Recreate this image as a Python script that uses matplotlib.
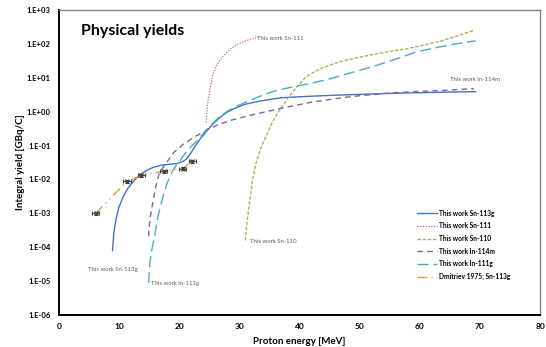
import numpy as np
import matplotlib
matplotlib.use("Agg")
import matplotlib.pyplot as plt

plt.rcParams['font.family'] = ['Lato', 'DejaVu Sans']

# ---- data (y as log10 of yield) ----
sn113g_E = [8.9, 9.1, 9.5, 10.0, 10.7, 11.5, 12.5, 13.4, 14.5, 15.7, 17.0, 18.5, 19.6, 20.5, 21.2, 22.0,
            22.6, 23.5, 24.5, 25.5, 26.7, 28.0, 29.5, 31.0, 32.8, 35.0, 37.0, 40.0, 45.0, 50.0, 55.0,
            60.0, 65.0, 69.3]
sn113g_L = [-4.1, -3.6, -3.15, -2.8, -2.5, -2.25, -2.03, -1.87, -1.74, -1.64, -1.58, -1.55, -1.53, -1.48,
            -1.40, -1.20, -1.03, -0.80, -0.59, -0.38, -0.18, -0.01, 0.12, 0.22, 0.29, 0.36, 0.41, 0.44,
            0.48, 0.51, 0.54, 0.56, 0.58, 0.59]

sn111_E = [24.5, 24.6, 24.8, 25.2, 25.6, 26.3, 27.2, 28.3, 29.5, 31.2, 33.0]
sn111_L = [-0.32, 0.0, 0.35, 0.75, 1.1, 1.4, 1.62, 1.82, 1.97, 2.1, 2.2]

sn110_E = [31.0, 31.3, 31.7, 32.2, 32.8, 33.5, 34.5, 35.5, 36.7, 38.3, 39.5, 41.1, 42.5, 43.8, 46.6,
           49.0, 52.0, 55.0, 57.7, 60.0, 63.2, 66.0, 69.0]
sn110_L = [-3.8, -3.2, -2.68, -2.0, -1.5, -1.1, -0.7, -0.3, 0.05, 0.45, 0.72, 1.03, 1.18, 1.29, 1.47,
           1.57, 1.68, 1.78, 1.85, 1.94, 2.07, 2.22, 2.4]

in114m_E = [14.9, 15.1, 15.6, 16.1, 16.7, 17.9, 19.0, 20.6, 22.5, 24.5, 26.5, 28.9, 31.5, 34.5, 38.3,
            42.0, 46.6, 50.0, 54.9, 60.0, 63.2, 69.0]
in114m_L = [-3.68, -3.2, -2.68, -2.2, -1.8, -1.5, -1.22, -0.97, -0.75, -0.55, -0.38, -0.24, -0.12, 0.0,
            0.15, 0.28, 0.40, 0.47, 0.55, 0.60, 0.62, 0.68]

in111g_E = [14.9, 15.1, 15.4, 15.9, 16.5, 17.3, 18.0, 18.9, 19.6, 20.1, 20.6, 21.5, 23.0, 25.0, 26.5,
            27.9, 29.5, 31.2, 33.5, 35.5, 38.3, 40.0, 42.5, 44.9, 48.0, 52.0, 56.0, 59.4, 63.0, 66.0, 69.3]
in111g_L = [-5.06, -4.5, -4.1, -3.68, -3.05, -2.5, -2.1, -1.75, -1.55, -1.45, -1.32, -1.12, -0.85, -0.44,
            -0.18, 0.0, 0.16, 0.29, 0.46, 0.59, 0.71, 0.77, 0.86, 0.96, 1.12, 1.32, 1.55, 1.76, 1.9, 2.0, 2.09]

dmit_E = [6.1, 11.3, 13.7, 17.4, 20.6, 22.2]
dmit_Y = [1.0e-3, 8.7e-3, 1.32e-2, 1.74e-2, 2.1e-2, 3.4e-2]
dmit_xerr = [0.6, 0.6, 0.6, 0.6, 0.6, 0.6]

yticks = [1e-6, 1e-5, 1e-4, 1e-3, 1e-2, 1e-1, 1e0, 1e1, 1e2, 1e3]
ytick_labels = ['1.E-06', '1.E-05', '1.E-04', '1.E-03', '1.E-02', '1.E-01', '1.E+00', '1.E+01', '1.E+02', '1.E+03']
xticks = [0, 10, 20, 30, 40, 50, 60, 70, 80]


def tolin(L):
    return 10 ** np.array(L)


fig = plt.figure(figsize=(5.46, 3.47), dpi=100)
ax = fig.add_axes([59 / 546, 1 - 315 / 347, 481 / 546, 305 / 347])
ax.set_yscale('log')

ax.plot(sn113g_E, tolin(sn113g_L), color='#4472C4', lw=1.0, label='This work Sn-113g')
ax.plot(sn111_E, tolin(sn111_L), color='#E06060', lw=0.9, ls=(0, (1, 1.2)), label='This work Sn-111')
ax.plot(sn110_E, tolin(sn110_L), color='#9BBB59', lw=1.0, ls=(0, (2.5, 1.2)), label='This work Sn-110')
ax.plot(in114m_E, tolin(in114m_L), color='#8064A2', lw=1.0, ls=(0, (4, 3)), label='This work In-114m')
ax.plot(in111g_E, tolin(in111g_L), color='#4BACC6', lw=1.0, ls=(0, (8, 3.5)), label='This work In-111g')
ax.plot(dmit_E, dmit_Y, color='#F79646', lw=1.0, ls=(0, (7, 3, 1, 3, 1, 3)), label='Dmitriev 1975; Sn-113g')
ax.errorbar(dmit_E, dmit_Y, xerr=dmit_xerr, yerr=[np.array(dmit_Y) * 0.1, np.array(dmit_Y) * 0.1],
            fmt='x', ms=2.5, mew=0.8, color='#404040', ecolor='#404040', elinewidth=0.7, capsize=1.2,
            capthick=0.7, zorder=5)

ax.set_xlim(0, 80)
ax.set_ylim(1e-6, 1e3)
ax.set_xticks(xticks)
ax.set_xticklabels([str(t) for t in xticks], fontsize=6, fontweight='bold')
ax.set_yticks(yticks)
ax.set_yticklabels(ytick_labels, fontsize=5.5, fontweight='bold')
ax.minorticks_off()
ax.tick_params(length=0, pad=6)

for s in ['left', 'bottom']:
    ax.spines[s].set_color('black')
    ax.spines[s].set_linewidth(1.4)
for s in ['top', 'right']:
    ax.spines[s].set_color('#808080')
    ax.spines[s].set_linewidth(1.0)

ax.set_xlabel('Proton energy [MeV]', fontsize=7, fontweight='bold', labelpad=5)
ax.set_ylabel('Integral yield [GBq/C]', fontsize=7, fontweight='bold', labelpad=1)

ax.text(0.045, 0.955, 'Physical yields', transform=ax.transAxes, fontsize=11.5, fontweight='bold',
        va='top', ha='left')

gray = '#595959'
ax.text(4.8, 2.2e-5, 'This work Sn-113g', fontsize=4.3, color=gray, va='center')
ax.text(15.3, 8.5e-6, 'This work In-111g', fontsize=4.3, color=gray, va='center')
ax.text(31.8, 1.5e-4, 'This work Sn-110', fontsize=4.3, color=gray, va='center')
ax.text(33.0, 1.45e2, 'This work Sn-111', fontsize=4.3, color=gray, va='center')
ax.text(65.0, 9.0, 'This work In-114m', fontsize=4.3, color=gray, va='center')

leg = ax.legend(loc='upper left', bbox_to_anchor=(0.745, 0.345), frameon=False,
                prop={'size': 4.8, 'weight': 'bold'}, handlelength=3.0, handletextpad=0.3,
                labelspacing=0.85, borderpad=0, borderaxespad=0)

fig.savefig('out.png', dpi=100)
